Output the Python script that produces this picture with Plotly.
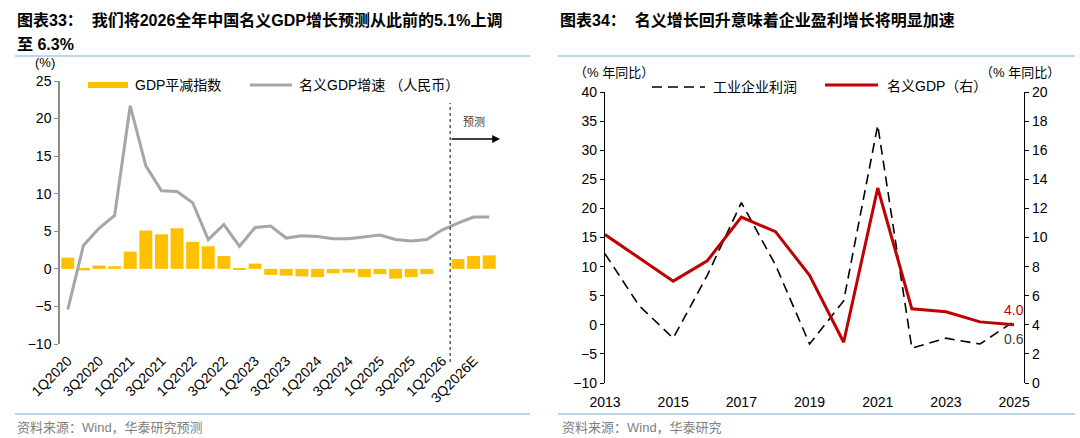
import plotly.graph_objects as go

W, H = 1080, 438
FONT = "Liberation Sans, Arial, Noto Sans CJK SC, sans-serif"

# ---------------- data: left chart ----------------
quarters = ["1Q2020", "2Q2020", "3Q2020", "4Q2020",
            "1Q2021", "2Q2021", "3Q2021", "4Q2021",
            "1Q2022", "2Q2022", "3Q2022", "4Q2022",
            "1Q2023", "2Q2023", "3Q2023", "4Q2023",
            "1Q2024", "2Q2024", "3Q2024", "4Q2024",
            "1Q2025", "2Q2025", "3Q2025", "4Q2025",
            "1Q2026", "2Q2026E", "3Q2026E", "4Q2026E"]
gdp_deflator = [1.5, -0.2, 0.45, 0.35,
                2.3, 5.1, 4.6, 5.4,
                3.6, 3.0, 1.7, -0.1,
                0.7, -0.8, -0.9, -1.0,
                -1.1, -0.6, -0.5, -1.1,
                -0.7, -1.3, -1.1, -0.7,
                None, 1.3, 1.7, 1.8]
nominal_gdp_q = [-5.4, 3.1, 5.4, 7.1,
                 21.7, 13.7, 10.4, 10.3,
                 8.8, 3.9, 5.9, 3.0,
                 5.5, 5.7, 4.1, 4.4,
                 4.3, 4.0, 4.0, 4.3,
                 4.5, 3.9, 3.7, 3.9,
                 5.2, 6.1, 6.9, 6.9]
left_tick_labels = ["1Q2020", "3Q2020", "1Q2021", "3Q2021", "1Q2022", "3Q2022", "1Q2023",
                    "3Q2023", "1Q2024", "3Q2024", "1Q2025", "3Q2025", "1Q2026", "3Q2026E"]

# ---------------- data: right chart ----------------
years = [2013, 2014, 2015, 2016, 2017, 2018, 2019, 2020, 2021, 2022, 2023, 2024, 2025]
industrial_profit = [12.2, 3.3, -2.3, 8.5, 21.0, 10.3, -3.3, 4.1, 34.3, -4.0, -2.3, -3.3, 0.6]
nominal_gdp_y = [10.2, 8.6, 7.0, 8.4, 11.4, 10.4, 7.4, 2.8, 13.4, 5.1, 4.9, 4.2, 4.0]
right_year_ticks = [2013, 2015, 2017, 2019, 2021, 2023, 2025]


def px(x):
    return x / W


def py(y):
    return 1 - y / H


idx = list(range(len(quarters)))
label_idx = [quarters.index(l) for l in left_tick_labels]

# domains (pixel derived)
L_XD = [px(60), px(497)]
L_YD = [py(344), py(81)]
L_YR = [-10, 25]
R_XD = [px(605), px(1024)]
R_YD = [py(383), py(92)]
R_YR = [-10, 40]
R_Y2R = [0, 20]


def zero_pos(dom, rng):
    return dom[0] + (0 - rng[0]) / (rng[1] - rng[0]) * (dom[1] - dom[0])


fig = go.Figure()

fig.add_trace(go.Bar(x=idx, y=gdp_deflator, marker_color="#FFC000", marker_line_width=0,
                     xaxis="x", yaxis="y", name="GDP平减指数"))
fig.add_trace(go.Scatter(x=idx, y=nominal_gdp_q, mode="lines", line=dict(color="#A6A6A6", width=3),
                         xaxis="x", yaxis="y", name="名义GDP增速 （人民币）"))

fig.add_trace(go.Scatter(x=years, y=industrial_profit, mode="lines",
                         line=dict(color="#000000", width=1.6, dash="10px,6px"),
                         xaxis="x2", yaxis="y3", name="工业企业利润"))
fig.add_trace(go.Scatter(x=years, y=nominal_gdp_y, mode="lines",
                         line=dict(color="#C00000", width=3),
                         xaxis="x2", yaxis="y4", name="名义GDP（右）"))

tickfont = dict(family=FONT, size=14, color="#000000")

fig.update_layout(
    width=W, height=H,
    margin=dict(l=0, r=0, t=0, b=0, pad=0),
    paper_bgcolor="white", plot_bgcolor="white",
    showlegend=False,
    bargap=0.17,
    font=dict(family=FONT, size=14, color="#000000"),
    xaxis=dict(domain=L_XD, range=[-0.5, len(quarters) - 0.5], anchor="y", automargin=False,
               tickmode="array", tickvals=label_idx, ticktext=left_tick_labels,
               tickangle=-45, showline=False, ticks="", showgrid=False, zeroline=False,
               ticklabelstandoff=5, tickfont=tickfont),
    yaxis=dict(domain=L_YD, range=L_YR, anchor="x", dtick=5, showline=True, automargin=False,
               linecolor="#8C8C8C", linewidth=1.5, ticks="outside", ticklen=4,
               tickcolor="#8C8C8C", showgrid=False, zeroline=False, tickfont=tickfont),
    xaxis3=dict(domain=L_XD, range=[-0.5, len(quarters) - 0.5], overlaying="x",
                anchor="free", position=zero_pos(L_YD, L_YR), automargin=False,
                tickmode="array", tickvals=[i - 0.5 for i in range(0, len(quarters) + 1, 2)],
                showticklabels=False, showline=True, linecolor="#404040", linewidth=1.3,
                ticks="outside", ticklen=4, tickcolor="#404040", showgrid=False, zeroline=False),
    xaxis2=dict(domain=R_XD, range=[2013, 2025.29], anchor="y3", automargin=False,
                tickmode="array", tickvals=right_year_ticks, showline=False, ticks="",
                showgrid=False, zeroline=False, ticklabelstandoff=9, tickfont=tickfont),
    yaxis3=dict(domain=R_YD, range=R_YR, anchor="x2", dtick=5, showline=True, automargin=False,
                linecolor="#000000", linewidth=1.3, ticks="outside", ticklen=4,
                tickcolor="#000000", showgrid=False, zeroline=False, tickfont=tickfont),
    yaxis4=dict(domain=R_YD, range=R_Y2R, anchor="x2", overlaying="y3", side="right", dtick=2,
                automargin=False,
                showline=True, linecolor="#000000", linewidth=1.3, ticks="outside", ticklen=4,
                tickcolor="#000000", showgrid=False, zeroline=False, tickfont=tickfont),
    xaxis4=dict(domain=R_XD, range=[2013, 2025.29], overlaying="x2", automargin=False,
                anchor="free", position=zero_pos(R_YD, R_YR),
                tickmode="array", tickvals=right_year_ticks, showticklabels=False,
                showline=True, linecolor="#000000", linewidth=1.3, ticks="outside", ticklen=4,
                tickcolor="#000000", showgrid=False, zeroline=False),
)

shapes = []
annotations = []
SEP = "#A9C6E3"
# separators
for x0, x1 in [(15, 530), (558, 1075)]:
    shapes.append(dict(type="line", xref="paper", yref="paper", x0=px(x0), x1=px(x1),
                       y0=py(56), y1=py(56), line=dict(color=SEP, width=1.5)))
    shapes.append(dict(type="line", xref="paper", yref="paper", x0=px(x0), x1=px(x1),
                       y0=py(414), y1=py(414), line=dict(color=SEP, width=1.5)))


def txt(x, y, s, size=14, color="#000000", anchor="left", yanchor="middle", pad=1):
    annotations.append(dict(xref="paper", yref="paper", x=px(x), y=py(y), text=s,
                            showarrow=False, xanchor=anchor, yanchor=yanchor, borderpad=pad,
                            font=dict(family=FONT, size=size, color=color)))


txt(15, 20, "<b>图表33：  我们将2026全年中国名义GDP增长预测从此前的5.1%上调</b>", size=16)
txt(15, 44, "<b>至 6.3%</b>", size=16)
txt(558, 20, "<b>图表34：  名义增长回升意味着企业盈利增长将明显加速</b>", size=16)

txt(15, 427, "资料来源：Wind，华泰研究预测", size=13, color="#808080")
txt(560, 427, "资料来源：Wind，华泰研究", size=13, color="#808080")

# axis unit labels
txt(34, 71, "(%)", size=13, yanchor="bottom", pad=0)
txt(572, 73, "（% 年同比）", size=13)
txt(978, 72, "（% 年同比）", size=13)

# left legend
shapes.append(dict(type="rect", xref="paper", yref="paper", x0=px(88), x1=px(128),
                   y0=py(88), y1=py(82), fillcolor="#FFC000", line=dict(width=0)))
txt(133, 85, "GDP平减指数", size=14)
shapes.append(dict(type="line", xref="paper", yref="paper", x0=px(250), x1=px(292),
                   y0=py(85), y1=py(85), line=dict(color="#A6A6A6", width=3)))
txt(297, 85, "名义GDP增速 （人民币）", size=14)

# right legend
shapes.append(dict(type="line", xref="paper", yref="paper", x0=px(652), x1=px(705),
                   y0=py(87), y1=py(87), line=dict(color="#000000", width=1.6, dash="10px,6px")))
txt(711, 87, "工业企业利润", size=14)
shapes.append(dict(type="line", xref="paper", yref="paper", x0=px(825), x1=px(878),
                   y0=py(85), y1=py(85), line=dict(color="#C00000", width=3)))
txt(885, 86, "名义GDP（右）", size=14)

# forecast divider
fc_x = quarters.index("2Q2026E") - 0.5
shapes.append(dict(type="line", xref="x", yref="paper", x0=fc_x, x1=fc_x,
                   y0=py(362), y1=py(103), line=dict(color="#404040", width=1.3, dash="3px,3px")))
annotations.append(dict(xref="paper", yref="paper", x=px(500), y=py(139), ax=-50, ay=0,
                        axref="pixel", ayref="pixel", text="", showarrow=True,
                        arrowhead=2, arrowsize=1.2, arrowwidth=1.3, arrowcolor="#000000"))
txt(474, 122, "预测", size=11, color="#404040", anchor="center")

# end-value labels
annotations.append(dict(xref="x2", yref="y4", x=years[-1], y=nominal_gdp_y[-1],
                        text=f"{nominal_gdp_y[-1]:.1f}", showarrow=False, yshift=15,
                        xanchor="center", yanchor="middle",
                        font=dict(family=FONT, size=14, color="#C00000")))
annotations.append(dict(xref="x2", yref="y3", x=years[-1], y=industrial_profit[-1],
                        text=f"{industrial_profit[-1]:.1f}", showarrow=False, yshift=-18,
                        xanchor="center", yanchor="middle",
                        font=dict(family=FONT, size=14, color="#404040")))

fig.update_layout(shapes=shapes, annotations=annotations)
fig.write_html("out.html")
